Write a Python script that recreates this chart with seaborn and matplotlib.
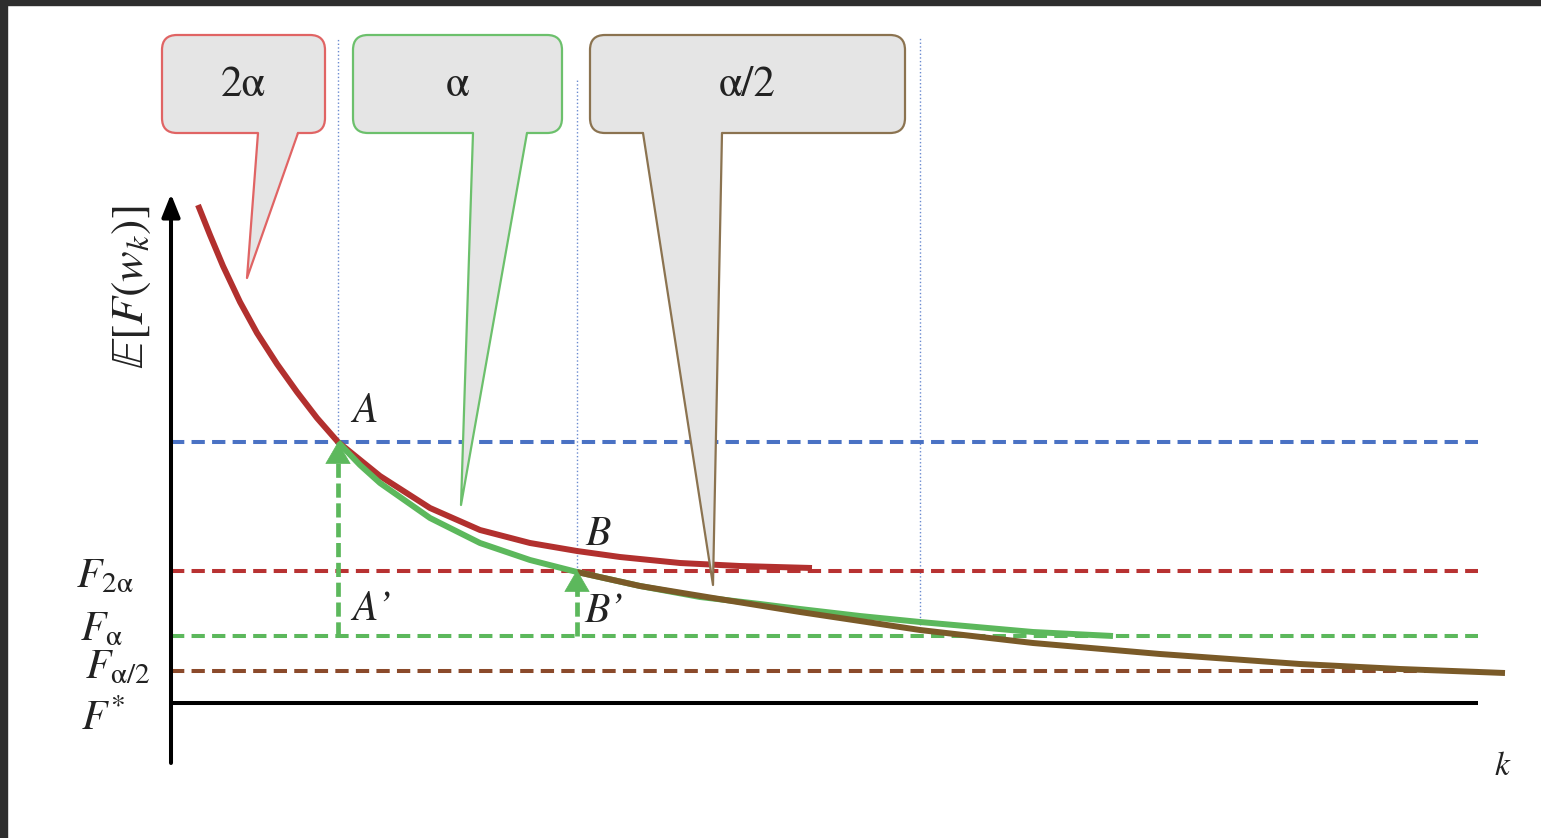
import numpy as np
import pandas as pd
import matplotlib
matplotlib.use('Agg')
import matplotlib.pyplot as plt
import seaborn as sns
from matplotlib.patches import FancyBboxPatch, Polygon, Rectangle

# iteration k vs expected loss, for three step sizes
k_2a = [2.7, 3.9, 5.2, 6.9, 8.6, 10.6, 12.6, 14.6, 16.7, 20.9, 25.9, 30.9, 35.9, 40.6, 44.9, 50.9, 56.9, 64.1]
f_2a = [49.8, 46.8, 43.7, 40.1, 37.0, 33.9, 31.1, 28.5, 26.1, 22.7, 19.5, 17.3, 16.0, 15.2, 14.6, 14.0, 13.7, 13.5]

k_a = [16.7, 18.9, 20.9, 25.9, 30.9, 35.9, 40.6, 46.9, 52.9, 58.9, 62.9, 68.9, 74.9, 86.2, 94.2]
f_a = [26.1, 23.8, 22.0, 18.5, 16.0, 14.3, 13.1, 11.7, 10.6, 9.9, 9.4, 8.7, 8.1, 7.1, 6.7]

k_a2 = [40.6, 46.9, 54.2, 62.9, 68.9, 74.9, 86.2, 98.9, 112.9, 122.9, 133.4]
f_a2 = [13.1, 11.7, 10.5, 9.1, 8.2, 7.3, 6.0, 4.9, 3.9, 3.4, 3.0]

# horizontal levels
level_A = 26.1
F_2a, F_a, F_a2, F_star = 13.2, 6.7, 3.2, 0.0
k_end = 130.7

# switch points
k_A, k_B, k_C = 16.7, 40.6, 74.9

# callouts: label, box (k0, k1, F0, F1), tail base (k0, k1), tail tip (k, F), edge colour
callouts = [
    ('2α', (-0.9, 15.4, 57.0, 66.8), (8.7, 12.7), (7.6, 42.5), '#e06464'),
    ('α', (18.2, 39.1, 57.0, 66.8), (30.2, 35.6), (29.0, 19.8), '#6cc06c'),
    ('α/2', (41.9, 73.4, 57.0, 66.8), (47.2, 55.1), (54.2, 11.8), '#8b7350'),
]

RED = '#b2302e'
GREEN = '#5cb85c'
BROWN = '#7a5a28'

sns.set_theme(style='white')
plt.rcParams['mathtext.fontset'] = 'stix'
plt.rcParams['font.family'] = ['STIXGeneral', 'DejaVu Serif']

fig = plt.figure(figsize=(15.41, 8.38), dpi=100)
ax = fig.add_axes([0, 0, 1, 1])
ax.set_xlim(-17.1, 137.0)
ax.set_ylim(-13.5, 70.3)
ax.axis('off')

# dashed levels
lw_d = 2.9
ax.plot([0, k_end], [level_A] * 2, color='#4a72c4', lw=lw_d, dashes=(3.3, 1.8), zorder=2)
ax.plot([0, k_end], [F_2a] * 2, color='#b83232', lw=lw_d, dashes=(3.3, 1.8), zorder=2)
ax.plot([0, k_end], [F_a] * 2, color=GREEN, lw=lw_d, dashes=(3.3, 1.8), zorder=2)
ax.plot([0, k_end], [F_a2] * 2, color='#8b4a2b', lw=lw_d, dashes=(3.3, 1.8), zorder=2)

# thin dotted switch markers
for kx, f0 in [(k_A, level_A), (k_C, F_a)]:
    ax.plot([kx, kx], [f0, 66.5], color='#6a8ad0', lw=1.0, ls=':', zorder=1)
ax.plot([k_B, k_B], [F_2a, 62.5], color='#6a8ad0', lw=1.0, ls=':', zorder=1)

# curves
df = pd.concat([
    pd.DataFrame({'k': k_2a, 'F': f_2a, 'step': '2α'}),
    pd.DataFrame({'k': k_a, 'F': f_a, 'step': 'α'}),
    pd.DataFrame({'k': k_a2, 'F': f_a2, 'step': 'α/2'}),
])
sns.lineplot(data=df, x='k', y='F', hue='step', palette=[RED, GREEN, BROWN],
             sort=False, estimator=None, lw=4.3, legend=False, ax=ax, zorder=4,
             solid_joinstyle='round', solid_capstyle='butt')

# axes lines
ax.plot([0, k_end], [F_star, F_star], color='black', lw=2.9, zorder=3, solid_capstyle='butt')
ax.annotate('', xy=(0, 50.9), xytext=(0, -6.0),
            arrowprops=dict(arrowstyle='-|>,head_length=0.55,head_width=0.22', lw=2.9,
                            color='black', mutation_scale=25, shrinkA=0, shrinkB=0))

# green restart arrows
for kx, top in [(k_A, level_A), (k_B, F_2a + 0.1)]:
    ax.plot([kx, kx], [F_a, top - 1.6], color=GREEN, lw=3.4, dashes=(3.0, 1.2), zorder=5)
    ax.annotate('', xy=(kx, top), xytext=(kx, top - 2.0),
                arrowprops=dict(arrowstyle='-|>,head_length=0.6,head_width=0.35', lw=0.5,
                                color=GREEN, mutation_scale=25, shrinkA=0, shrinkB=0), zorder=6)

# callouts
for label, (x0, x1, y0, y1), (b0, b1), tip, ec in callouts:
    box = FancyBboxPatch((x0, y0), x1 - x0, y1 - y0,
                         boxstyle='round,pad=0,rounding_size=1.5',
                         fc='#e5e5e5', ec=ec, lw=1.6, zorder=7)
    ax.add_patch(box)
    ax.add_patch(Polygon([(b0, y0 + 0.3), (b1, y0 + 0.3), tip], closed=True,
                         fc='#e5e5e5', ec='none', zorder=8))
    ax.plot([b0, tip[0], b1], [y0, tip[1], y0], color=ec, lw=1.6, zorder=9)
    ax.text((x0 + x1) / 2, (y0 + y1) / 2 - 0.2, label, fontsize=31, ha='center',
            va='center', color='#222222', zorder=10)

# point labels
lab = dict(fontsize=30, ha='center', va='center', color='#222222', zorder=10)
ax.text(19.4, 29.1, 'A', style='italic', **lab)
ax.text(42.7, 16.8, 'B', style='italic', **lab)
ax.text(20.1, 9.3, 'A’', style='italic', **lab)
ax.text(43.3, 9.1, 'B’', style='italic', **lab)

# level labels
ax.text(-6.6, 12.6, r'$F_{2\mathrm{\alpha}}$', **lab)
ax.text(-7.0, 7.3, r'$F_{\mathrm{\alpha}}$', **lab)
ax.text(-5.3, 3.4, r'$F_{\mathrm{\alpha}/2}$', **lab)
ax.text(-6.8, -1.7, r'$F^{*}$', **lab)
ax.text(-3.9, 41.6, r'$\mathbb{E}[F(w_k)]$', rotation=90, fontsize=33, ha='center',
        va='center', color='#222222')
ax.text(133.2, -6.4, '$k$', fontsize=24, ha='center', va='center', color='#222222')

# screenshot frame
fig.add_artist(Rectangle((0, 1 - 5 / 838), 1, 5 / 838, transform=fig.transFigure,
                         color='#2e2e2e', zorder=20))
fig.add_artist(Rectangle((0, 0), 7 / 1541, 1, transform=fig.transFigure,
                         color='#2e2e2e', zorder=20))

fig.savefig('out.png', dpi=100)
